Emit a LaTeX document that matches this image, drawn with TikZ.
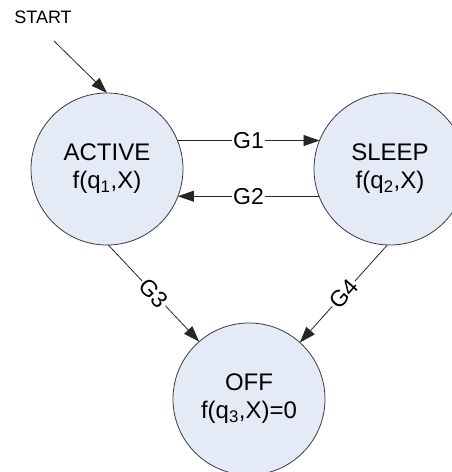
\documentclass[tikz,border=0pt]{standalone}
\usepackage{fontspec}
\setmainfont{Liberation Sans}
\usetikzlibrary{arrows.meta}
\definecolor{statefill}{HTML}{E5EBF6}
\definecolor{edgegray}{HTML}{3A3A3A}
\tikzset{
  state/.style={circle, draw=edgegray, line width=0.8pt, fill=statefill,
    minimum size=152pt, inner sep=0pt, outer sep=0pt, align=center,
    font=\fontsize{24}{28}\selectfont},
  trans/.style={draw=black!85, line width=0.8pt,
    -{Triangle[length=16pt, width=11pt]}},
  glabel/.style={fill=white, inner sep=1.5pt, font=\fontsize{23}{26}\selectfont}
}
\begin{document}
\begin{tikzpicture}[x=1pt, y=-1pt]
  \useasboundingbox (0,0) rectangle (452,472);
  \clip (0,0) rectangle (452,472);

  % states
  \node[state] (active) at (107,169) {ACTIVE\\f(q\textsubscript{1},X)};
  \node[state] (sleep)  at (390,169) {SLEEP\\f(q\textsubscript{2},X)};
  \node[state] (off)    at (249,399) {OFF\\f(q\textsubscript{3},X)=0};

  % initial arrow
  \node[font=\fontsize{18}{20}\selectfont] (start) at (43,17) {START};
  \coordinate (startfrom) at (54,41);
  \draw[trans] (startfrom) -- (active.90);

  % transitions
  \draw[trans] (active.22) -- node[glabel] {G1} (sleep.158);
  \draw[trans] (sleep.-159) -- node[glabel] {G2} (active.-21);
  \draw[trans] (active.-89) -- node[glabel, sloped] {G3} (off.131);
  \draw[trans] (sleep.-92) -- node[glabel, sloped] {G4} (off.48);
\end{tikzpicture}
\end{document}
